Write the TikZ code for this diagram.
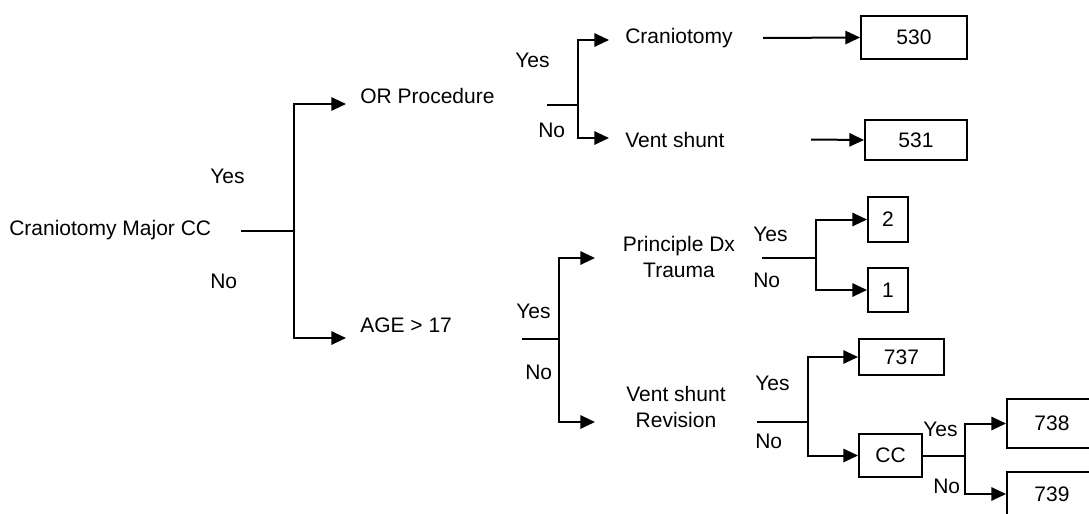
\documentclass[tikz,border=0pt]{standalone}
\usepackage{fontspec}
\setmainfont{Liberation Sans}
\usetikzlibrary{arrows.meta}
\begin{document}
\begin{tikzpicture}[x=0.75pt,y=-0.75pt,
  txt/.style={font=\fontsize{15.75}{19.5}\selectfont},
  lbl/.style={txt,inner sep=0pt,anchor=base west},
  twoline/.style={txt,inner sep=0pt,anchor=north,align=center},
  box/.style={txt,draw,line width=1.5pt,inner sep=0pt},
  wire/.style={line width=1.5pt},
  arr/.style={wire,-{Triangle[length=11pt,width=10pt]}}]
\clip (0,0) rectangle (1089,514);

% ---- decision texts ----
\node[lbl] (root) at (9,235) {Craniotomy Major CC};
\node[lbl] (orp)  at (360,103) {OR Procedure};
\node[lbl] (age)  at (360,332) {AGE > 17};
\node[lbl] (cran) at (625,43) {Craniotomy};
\node[lbl] (vent) at (625,147) {Vent shunt};
\node[twoline] (pdx) at (679,236) {Principle Dx\\Trauma};
\node[twoline] (vsr) at (676,386) {Vent shunt\\Revision};

% ---- yes / no labels ----
\node[lbl] (y1) at (210,183) {Yes};
\node[lbl] (n1) at (210,288) {No};
\node[lbl] (y2) at (515,67)  {Yes};
\node[lbl] (n2) at (538,137) {No};
\node[lbl] (y3) at (753,241) {Yes};
\node[lbl] (n3) at (753,287) {No};
\node[lbl] (y4) at (516,318) {Yes};
\node[lbl] (n4) at (525,379) {No};
\node[lbl] (y5) at (755,390) {Yes};
\node[lbl] (n5) at (755,448) {No};
\node[lbl] (y6) at (923,436) {Yes};
\node[lbl] (n6) at (933,493) {No};

% ---- outcome boxes ----
\node[box,minimum width=79.5pt,minimum height=32.25pt] (b530) at (914,37.5) {530};
\node[box,minimum width=76.5pt,minimum height=30pt]    (b531) at (916,140) {531};
\node[box,minimum width=30pt,minimum height=33.75pt]   (b2)   at (888,219.5) {2};
\node[box,minimum width=30pt,minimum height=33pt]      (b1)   at (888,290) {1};
\node[box,minimum width=63.75pt,minimum height=27pt]   (b737) at (901.5,357) {737};
\node[box,minimum width=47.25pt,minimum height=32.25pt](bCC)  at (890.5,455.5) {CC};
\node[box,minimum width=67.5pt,minimum height=36.75pt] (b738) at (1052,423.5) {738};
\node[box,minimum width=67.5pt,minimum height=33pt]    (b739) at (1052,494) {739};

% ---- junctions, stems and arrow ends ----
\coordinate (s1) at (241,231);  \coordinate (j1) at (294,231);
\coordinate (t1a) at (346,104); \coordinate (t1b) at (346,338);
\coordinate (s2) at (547,105);  \coordinate (j2) at (578,105);
\coordinate (t2a) at (609,40);  \coordinate (t2b) at (609,138);
\coordinate (s3) at (522,339);  \coordinate (j3) at (559,339);
\coordinate (t3a) at (595,258); \coordinate (t3b) at (595,422);
\coordinate (s4) at (762,258);  \coordinate (j4) at (816,258);
\coordinate (s5) at (757,422);  \coordinate (j5) at (808,422);
\coordinate (j6) at (965,455.5);
\coordinate (c1) at (763,38);
\coordinate (c2) at (811,139.5);

% ---- connectors ----
\draw[wire] (s1) -- (j1);
\draw[arr] (j1) |- (t1a);
\draw[arr] (j1) |- (t1b);

\draw[wire] (s2) -- (j2);
\draw[arr] (j2) |- (t2a);
\draw[arr] (j2) |- (t2b);
\draw[arr] (c1) -- (b530.west);
\draw[arr] (c2) -- (b531.west);

\draw[wire] (s3) -- (j3);
\draw[arr] (j3) |- (t3a);
\draw[arr] (j3) |- (t3b);

\draw[wire] (s4) -- (j4);
\draw[arr] (j4) |- (b2.west);
\draw[arr] (j4) |- (b1.west);

\draw[wire] (s5) -- (j5);
\draw[arr] (j5) |- (b737.west);
\draw[arr] (j5) |- (bCC.west);

\draw[wire] (bCC.east) -- (j6);
\draw[arr] (j6) |- (b738.west);
\draw[arr] (j6) |- (b739.west);
\end{tikzpicture}
\end{document}
